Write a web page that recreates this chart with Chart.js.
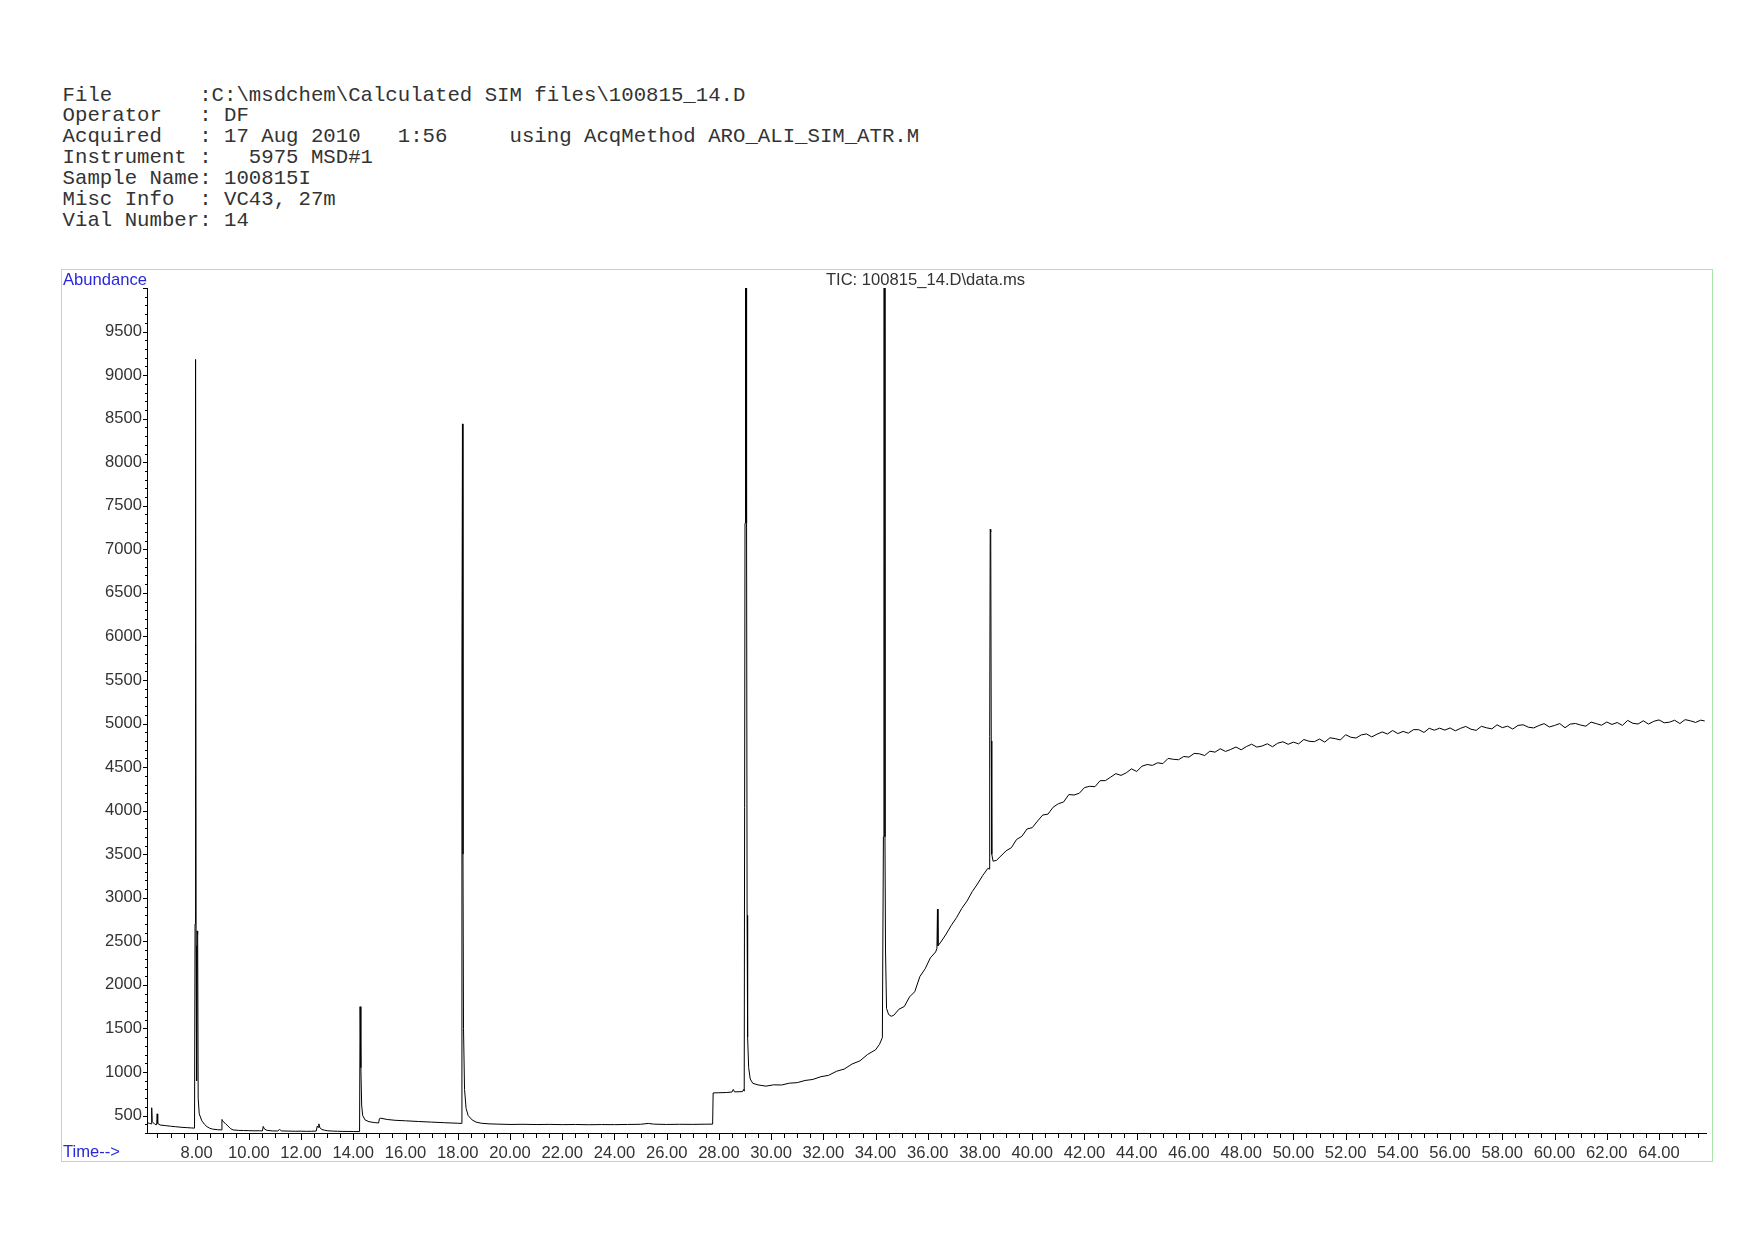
<!DOCTYPE html>
<html>
<head>
<meta charset="UTF-8">
<title>TIC: 100815_14.D\data.ms</title>
<script src="https://cdn.jsdelivr.net/npm/chart.js"></script>
<style>
  body { margin: 0; background: #fff; width: 1754px; height: 1240px; position: relative; overflow: hidden; }
  /* header block */
  #info {
    position: absolute; left: 62.6px; top: 85.5px; margin: 0;
    font-family: "Liberation Mono", "DejaVu Sans Mono", monospace;
    font-size: 20.7px; line-height: 20.9px; color: #333;
  }
  /* green frame round the plot */
  #frame {
    position: absolute; left: 61px; top: 269px; width: 1652px; height: 893px;
    box-sizing: border-box; border: 1.5px solid #a8e6a8;
  }
  #tic { position: absolute; left: 62px; top: 270px; }
</style>
</head>
<body>
<pre id="info">File       :C:\msdchem\Calculated SIM files\100815_14.D
Operator   : DF
Acquired   : 17 Aug 2010   1:56     using AcqMethod ARO_ALI_SIM_ATR.M
Instrument :   5975 MSD#1
Sample Name: 100815I
Misc Info  : VC43, 27m
Vial Number: 14</pre>
<div id="frame"></div>
<canvas id="tic" width="1650" height="891"></canvas>
<script>
// retention time (min), one row per stretch of the run
var times = [
  6.10, 6.20, 6.26, 6.28, 6.30, 6.40, 6.47, 6.49, 6.51, 6.60, 6.80, 7.00, 7.20, 7.40, 7.60, 7.80, 7.92,
  7.94, 7.96, 7.98, 8.00, 8.02, 8.04, 8.06, 8.10, 8.20, 8.30, 8.40, 8.50, 8.60, 8.80, 8.95,
  8.97, 9.00, 9.05, 9.10, 9.20, 9.30, 9.40, 9.60, 9.80, 10.00, 10.20, 10.40, 10.52, 10.55, 10.60, 10.70, 10.90,
  11.10, 11.18, 11.25, 11.50, 11.80, 12.00, 12.20, 12.40, 12.58, 12.62, 12.65, 12.68, 12.72, 12.80, 12.90, 13.00, 13.20, 13.40, 13.60, 13.80, 14.00, 14.24,
  14.26, 14.29, 14.32, 14.36, 14.45, 14.60, 14.80, 14.97, 15.00, 15.05, 15.30, 15.60, 16.00, 16.50, 17.00, 17.50, 18.00, 18.14,
  18.16, 18.18, 18.20, 18.22, 18.26, 18.32, 18.40, 18.55, 18.70, 18.90, 19.20,
  19.50, 20.00, 20.50, 21.00, 21.50, 22.00, 22.50, 23.00, 23.50, 24.00, 24.50, 25.00, 25.30, 25.50, 26.00, 26.50, 27.00, 27.50, 27.76,
  27.78, 28.00, 28.30, 28.50, 28.55, 28.60, 28.90, 28.95, 28.97, 29.00, 29.02, 29.04, 29.06, 29.08, 29.10, 29.14, 29.20, 29.30,
  29.50, 29.80, 30.10, 30.40, 30.70, 31.00, 31.30, 31.60, 31.90, 32.20, 32.50, 32.80, 33.10, 33.40, 33.70, 34.00, 34.15, 34.26,
  34.30, 34.32, 34.34, 34.36, 34.38, 34.42, 34.50, 34.60, 34.70, 34.90, 35.10, 35.30, 35.50, 35.70, 35.90, 36.10, 36.30, 36.35, 36.37, 36.39,
  36.50, 36.70, 36.90, 37.10, 37.30, 37.50, 37.70, 37.90, 38.10, 38.30, 38.35,
  38.37, 38.39, 38.41, 38.43, 38.45, 38.50, 38.63, 38.80,
  39.0, 39.2, 39.4, 39.6, 39.8, 40.0, 40.2, 40.4, 40.6, 40.8, 41.0, 41.2, 41.4, 41.6, 41.8, 42.0, 42.2, 42.4, 42.6, 42.8,
  43.0, 43.2, 43.4, 43.6, 43.8, 44.0, 44.2, 44.4, 44.6, 44.8, 45.0, 45.2, 45.4, 45.6, 45.8,
  46.0, 46.2, 46.4, 46.6, 46.8, 47.0, 47.2, 47.4, 47.6, 47.8, 48.0, 48.2, 48.4, 48.6, 48.8, 49.0, 49.2, 49.4, 49.6, 49.8,
  50.0, 50.2, 50.4, 50.6, 50.8, 51.0, 51.2, 51.4, 51.6, 51.8, 52.0, 52.2, 52.4, 52.6, 52.8, 53.0, 53.2, 53.4, 53.6, 53.8,
  54.0, 54.2, 54.4, 54.6, 54.8, 55.0, 55.2, 55.4, 55.6, 55.8,
  56.0, 56.2, 56.4, 56.6, 56.8, 57.0, 57.2, 57.4, 57.6, 57.8, 58.0, 58.2, 58.4, 58.6, 58.8, 59.0, 59.2, 59.4, 59.6, 59.8,
  60.0, 60.2, 60.4, 60.6, 60.8, 61.0, 61.2, 61.4, 61.6, 61.8, 62.0, 62.2, 62.4, 62.6, 62.8, 63.0, 63.2, 63.4, 63.6, 63.8,
  64.0, 64.2, 64.4, 64.6, 64.8, 65.0, 65.2, 65.4, 65.6, 65.75
];

// total ion current, same rows as times
var abundance = [
  420, 410, 405, 590, 430, 400, 395, 520, 410, 392, 385, 378, 372, 366, 362, 358, 356,
  2700, 9180, 2450, 900, 2620, 2580, 700, 520, 440, 400, 372, 355, 345, 338, 335,
  455, 440, 420, 410, 380, 350, 335, 330, 328, 327, 325, 326, 324, 375, 345, 330, 324,
  323, 340, 324, 322, 320, 321, 319, 320, 322, 380, 365, 405, 360, 340, 332, 326, 322, 320, 318, 318, 317, 316,
  1750, 1050, 620, 500, 450, 430, 420, 415, 465, 470, 455, 446, 440, 432, 425, 418, 412, 410,
  5650, 8440, 3500, 1500, 800, 580, 500, 450, 425, 412, 405,
  402, 398, 400, 397, 399, 396, 398, 395, 397, 396, 398, 400, 410, 402, 398, 400, 399, 401, 402,
  760, 762, 765, 770, 800, 772, 775, 800, 780, 7300, 14000, 14000, 7300, 2800, 1400, 1050, 920, 870,
  852, 838, 853, 851, 872, 878, 903, 915, 946, 962, 1008, 1034, 1092, 1128, 1203, 1255, 1318, 1395,
  3700, 14000, 14000, 3700, 2400, 1730, 1660, 1640, 1652, 1722, 1752, 1862, 1922, 2098, 2186, 2312, 2378, 2420, 2870, 2450,
  2492, 2583, 2684, 2772, 2878, 2962, 3070, 3158, 3255, 3338, 3330,
  4850, 7230, 7200, 4800, 3500, 3420, 3430, 3480,
  3540, 3575, 3670, 3705, 3790, 3805, 3880, 3950, 3960, 4040, 4080, 4100, 4185, 4180, 4200, 4265, 4280, 4275, 4345, 4345,
  4385, 4425, 4405, 4435, 4480, 4450, 4510, 4530, 4520, 4550, 4540, 4600, 4590, 4585, 4622,
  4615, 4657, 4653, 4633, 4683, 4672, 4711, 4680, 4703, 4731, 4699, 4736, 4763, 4730, 4742, 4768, 4734, 4775, 4791, 4762,
  4787, 4767, 4817, 4797, 4792, 4822, 4787, 4837, 4827, 4812, 4872, 4843, 4834, 4870, 4881, 4847, 4878, 4904, 4880, 4920,
  4885, 4910, 4890, 4930, 4930, 4898, 4946, 4924, 4947, 4925,
  4950, 4917, 4945, 4967, 4935, 4922, 4969, 4951, 4939, 4986, 4953, 4970, 4937, 4979, 4986, 4958, 4950, 4977, 4999, 4961,
  4978, 5000, 4952, 4994, 5001, 4983, 4970, 5017, 4999, 4981, 5018, 4990, 5012, 4979, 5036, 5003, 4995, 5032, 4994, 5026,
  5042, 5009, 5016, 5038, 5000, 5045, 5032, 5013, 5039, 5030
];

// axis ranges and tick steps
var timeRange = [6.1, 65.8];
var abundanceRange = [300, 10000];
var timeStep = 0.5;         // small ticks
var timeLabelStep = 2;      // labelled ticks
var abundanceStep = 100;
var abundanceLabelStep = 500;

if (times.length !== abundance.length) console.error('length mismatch', times.length, abundance.length);

var points = times.map(function (t, i) { return { x: t, y: abundance[i] }; });

function isMultiple(v, step) {
  var r = Math.abs(v / step - Math.round(v / step));
  return r < 1e-6;
}

var tickFont = { family: '"Liberation Sans", Arial, sans-serif', size: 16.6 };
var blue = '#2828d8';

// tick marks: long at labelled values, short elsewhere
var tickMarks = {
  id: 'tickMarks',
  afterDraw: function (chart) {
    var ctx = chart.ctx, x = chart.scales.x, y = chart.scales.y;
    ctx.save();
    ctx.strokeStyle = '#000';
    ctx.lineWidth = 1;
    ctx.beginPath();
    x.ticks.forEach(function (t) {
      var px = Math.round(x.getPixelForValue(t.value)) + 0.5;
      var len = isMultiple(t.value, timeLabelStep) ? 7 : 5;
      ctx.moveTo(px, y.bottom);
      ctx.lineTo(px, y.bottom + len);
    });
    y.ticks.forEach(function (t) {
      var py = Math.round(y.getPixelForValue(t.value)) + 0.5;
      var len = isMultiple(t.value, abundanceLabelStep) ? 4 : 2;
      ctx.moveTo(x.left, py);
      ctx.lineTo(x.left - len, py);
    });
    ctx.stroke();
    ctx.restore();
  }
};

// the three captions inside the frame
var captions = {
  id: 'captions',
  afterDraw: function (chart) {
    var ctx = chart.ctx, area = chart.chartArea;
    ctx.save();
    ctx.font = tickFont.size + 'px ' + tickFont.family;
    ctx.textBaseline = 'middle';
    ctx.fillStyle = blue;
    ctx.textAlign = 'left';
    ctx.fillText('Abundance', 1, 10);
    ctx.fillText('Time-->', 1, 882);
    ctx.fillStyle = '#333';
    ctx.textAlign = 'center';
    ctx.fillText('TIC: 100815_14.D\\data.ms', (area.left + area.right) / 2 - 1, 10);
    ctx.restore();
  }
};

new Chart(document.getElementById('tic'), {
  type: 'line',
  data: {
    datasets: [{
      data: points,
      borderColor: '#000',
      borderWidth: 1,
      pointRadius: 0,
      tension: 0,
      fill: false
    }]
  },
  options: {
    responsive: false,
    animation: false,
    layout: { padding: { top: 18, right: 6, left: 0, bottom: 0 } },
    plugins: { legend: { display: false }, tooltip: { enabled: false } },
    scales: {
      x: {
        type: 'linear',
        min: timeRange[0],
        max: timeRange[1],
        afterFit: function (s) { s.height = 28; },
        grid: { display: false, drawTicks: false },
        border: { display: true, color: '#000', width: 1 },
        ticks: {
          stepSize: timeStep,
          includeBounds: false,
          autoSkip: false,
          maxRotation: 0,
          padding: 10,
          color: '#333',
          font: tickFont,
          callback: function (v) {
            return (v >= 8 && isMultiple(v, timeLabelStep)) ? v.toFixed(2) : '';
          }
        }
      },
      y: {
        min: abundanceRange[0],
        max: abundanceRange[1],
        afterFit: function (s) { s.width = 85; },
        grid: { display: false, drawTicks: false },
        border: { display: true, color: '#000', width: 1 },
        ticks: {
          stepSize: abundanceStep,
          autoSkip: false,
          padding: 5,
          color: '#333',
          font: tickFont,
          callback: function (v) {
            return (v >= 500 && v < abundanceRange[1] && isMultiple(v, abundanceLabelStep)) ? String(v) : '';
          }
        }
      }
    }
  },
  plugins: [tickMarks, captions]
});
</script>
</body>
</html>
